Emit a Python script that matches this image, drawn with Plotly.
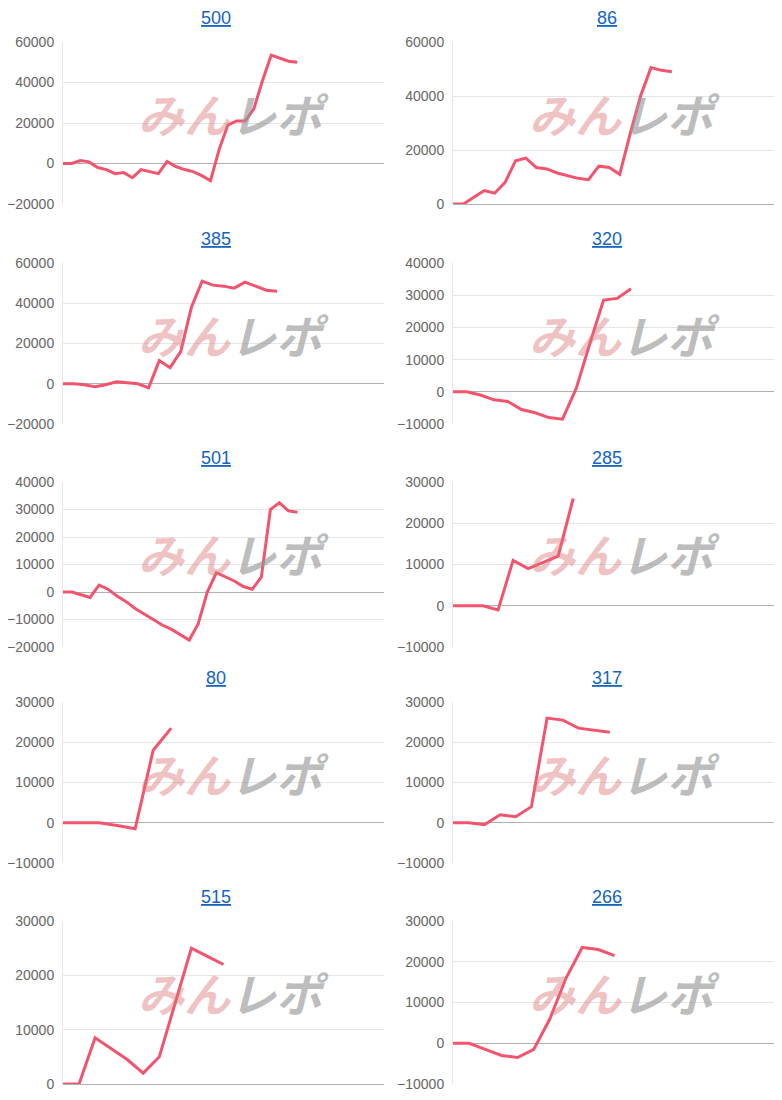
import plotly.graph_objects as go

W, H = 782, 1100
OFF = 7  # page offset of the rendered figure

titles = ["500", "86", "385", "320", "501", "285", "80", "317", "515", "266"]

s500 = [0, 0, 1500, 800, -2000, -3000, -5000, -4500, -7000, -3000, -4000, -5000, 1000, -1500,
        -3000, -4000, -6000, -8500, 7000, 19000, 21000, 21000, 27000, 41000, 53500, 52000, 50500, 50000]
s86 = [0, 0, 2500, 5000, 4000, 8000, 16000, 17000, 13500, 13000, 11500, 10500, 9500, 9000,
       14000, 13500, 11000, 26000, 40000, 50500, 49500, 49000]
s385 = [0, 0, -500, -1500, -500, 1000, 500, 0, -2000, 11500, 8000, 16000, 38000, 51000,
        49000, 48500, 47500, 50500, 48500, 46500, 46000]
s320 = [0, 0, -1000, -2500, -3000, -5500, -6500, -8000, -8500, 1000, 15000, 28500, 29000, 32000]
s501 = [0, 0, -1000, -2000, 2500, 1000, -1500, -3500, -6000, -8000, -10000, -12000, -13500,
        -15500, -17500, -11500, 0, 7000, 5500, 4000, 2000, 1000, 5500, 30000, 32500, 29500, 29000]
s285 = [0, 0, 0, -1000, 11000, 9000, 10500, 12000, 26000]
s80 = [0, 0, 0, -700, -1500, 18000, 23500]
s317 = [0, 0, -500, 2000, 1500, 4000, 26000, 25500, 23500, 23000, 22500]
s515 = [0, 0, 8500, 6500, 4500, 2000, 5000, 15000, 25000, 23500, 22000]
s266 = [0, 0, -1500, -3000, -3500, -1500, 6000, 16000, 23500, 23000, 21500]

series = [s500, s86, s385, s320, s501, s285, s80, s317, s515, s266]
slots = [37, 31, 30, 23.6, 35.6, 21.5, 17.8, 20.6, 20, 20]
yranges = [(-20000, 60000), (0, 60000), (-20000, 60000), (-10000, 40000), (-20000, 40000),
           (-10000, 30000), (-10000, 30000), (-10000, 30000), (0, 30000), (-10000, 30000)]
ydticks = [20000, 20000, 20000, 10000, 10000, 10000, 10000, 10000, 10000, 10000]

cols_px = [(62, 383), (452, 775)]
rows_px = [(41, 203), (262, 423), (481, 646), (701, 862), (920, 1083)]

fig = go.Figure()
for i, ys in enumerate(series):
    r, c = divmod(i, 2)
    n = i + 1
    xa = "x" if n == 1 else f"x{n}"
    ya = "y" if n == 1 else f"y{n}"
    fig.add_trace(go.Scatter(x=list(range(len(ys))), y=ys, mode="lines",
                             line=dict(color="#f2546e", width=3), xaxis=xa, yaxis=ya,
                             showlegend=False, hoverinfo="skip"))
    x0, x1 = (v - OFF for v in cols_px[c])
    y0, y1 = (v - OFF for v in rows_px[r])
    lo, hi = yranges[i]
    fig.layout[f"xaxis{'' if n == 1 else n}"] = dict(
        domain=[x0 / W, x1 / W], range=[0, slots[i]], anchor=ya, automargin=False,
        showticklabels=False, showgrid=False, zeroline=False, showline=False, fixedrange=True)
    fig.layout[f"yaxis{'' if n == 1 else n}"] = dict(
        domain=[1 - y1 / H, 1 - y0 / H], range=[lo, hi], anchor=xa, dtick=ydticks[i],
        tickformat="d", gridcolor="#e6e6e6", zeroline=True, zerolinecolor="#b0b0b0",
        zerolinewidth=1, showline=True, linecolor="#e6e6e6", ticks="", automargin=False,
        tickfont=dict(size=14, color="#666666"), ticklabelstandoff=5)
    fig.add_annotation(text=f"<u>{titles[i]}</u>", x=(x0 + x1 - 16) / 2 / W, y=1 - (y0 - 24) / H,
                       xref="paper", yref="paper", showarrow=False, xanchor="center",
                       yanchor="middle", font=dict(size=18, color="#1565c0"))
    fig.add_annotation(
        text="<b><i><span style='color:rgba(220,120,120,0.45)'>みん</span>"
             "<span style='color:rgba(150,150,150,0.65)'>レポ</span></i></b>",
        x=(x0 + 0.53 * (x1 - x0)) / W, y=1 - (y0 + 71) / H, xref="paper", yref="paper",
        xanchor="center", yanchor="middle", showarrow=False,
        font=dict(size=46, family="Noto Sans CJK JP"))

fig.update_layout(width=W, height=H, margin=dict(l=0, r=0, t=0, b=0),
                  paper_bgcolor="white", plot_bgcolor="white",
                  font=dict(family="Arial, Liberation Sans, sans-serif"))
fig.write_html("out.html")
